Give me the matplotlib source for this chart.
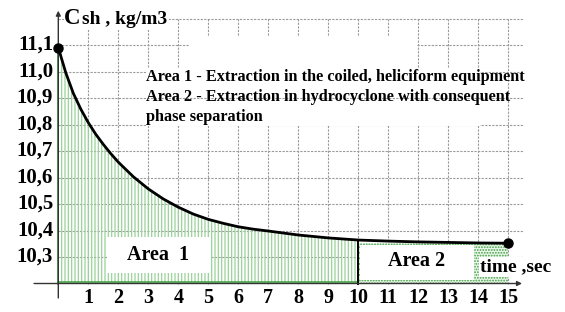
import numpy as np
import matplotlib
matplotlib.use("Agg")
import matplotlib.pyplot as plt
from matplotlib.patches import Rectangle

# ---- data ----
time_s = [0, 0.25, 0.5, 0.75, 1.0, 1.25, 1.5, 1.75, 2, 2.5, 3, 3.5, 4, 4.5, 5, 5.5, 6, 6.5,
          7, 8, 9, 10, 11, 12, 13, 14, 15]
c_sh = [11.09, 10.995, 10.918, 10.858, 10.807, 10.763, 10.725, 10.69, 10.658, 10.603,
        10.557, 10.519, 10.488, 10.462, 10.442, 10.427, 10.414, 10.405, 10.398, 10.383,
        10.372, 10.364, 10.36, 10.357, 10.355, 10.353, 10.352]
x_ticks = list(range(1, 16))
y_ticks = [10.3, 10.4, 10.5, 10.6, 10.7, 10.8, 10.9, 11.0, 11.1]
y_tick_labels = ["10,3", "10,4", "10,5", "10,6", "10,7", "10,8", "10,9", "11,0", "11,1"]
area_split = 10
y_base = 10.2
y_top = 11.2
note_lines = ["Area 1 - Extraction in the coiled, heliciform equipment",
              "Area 2 - Extraction in hydrocyclone with consequent",
              "phase separation"]

plt.rcParams['font.family'] = ['Liberation Serif', 'DejaVu Serif']
plt.rcParams['font.weight'] = 'bold'
plt.rcParams['hatch.linewidth'] = 0.9

W, H = 565, 312
fig = plt.figure(figsize=(W / 100, H / 100), dpi=100)
ax = fig.add_axes([0, 0, 1, 1])
# pixel mapping: t=0 at x=58.3px, 30 px per sec; 10.2 at y=283.5px, 265 px per 1.0
x0px, xs = 58.3, 30.0
y0px, ys = 283.5, 265.0
ax.set_xlim(-x0px / xs, (W - x0px) / xs)
ax.set_ylim(y_base - (H - y0px) / ys, y_base + y0px / ys)
ax.set_facecolor('white')

t = np.array(time_s)
c = np.array(c_sh)

# grid
grid_kw = dict(colors='#9a9a9a', linewidth=0.8, linestyles=(0, (2, 1.2)))
ax.hlines([v for v in y_ticks if v not in (10.9, 11.1)] + [y_top], 0, 15.5, zorder=1, **grid_kw)
ax.hlines(11.1, 0, 4.4, zorder=1, **grid_kw)
ax.hlines(11.1, 11.95, 15.5, zorder=1, **grid_kw)
ax.vlines(x_ticks, y_base, y_top, zorder=1, **grid_kw)

# white patches behind the note (as in the original)
ax.add_patch(Rectangle((4.4, 11.013), 11.95 - 4.4, 11.13 - 11.013, facecolor='white',
                       edgecolor='none', zorder=1.5))
ax.add_patch(Rectangle((2.96, 10.794), 14.05 - 2.96, 11.013 - 10.794, facecolor='white',
                       edgecolor='none', zorder=1.5))
ax.hlines(10.9, 0, 15.5, zorder=1.6, **grid_kw)

# Area 1 hatch
m1 = t <= area_split
ax.fill_between(t[m1], y_base, c[m1], facecolor='none', edgecolor='#9ad39a',
                hatch='|||||', linewidth=0, zorder=2)
ax.plot([0, area_split], [y_base + 0.004, y_base + 0.004], color='#4aa84a', lw=1.2, zorder=3)
ax.plot([0, 0], [y_base, c[0]], color='#4aa84a', lw=1.2, zorder=3)

# Area 2 dotted fill
m2 = t >= area_split
ax.fill_between(t[m2], y_base, c[-1], facecolor='#eef7ee', edgecolor='#3f9f3f',
                hatch='......', linewidth=0, zorder=2)

# white label boxes
ax.add_patch(Rectangle((1.62, 10.24), 3.44, 0.135, facecolor='white', edgecolor='none', zorder=4))
ax.text(3.33, 10.307, "Area  1", ha='center', va='center', fontsize=14.5, fontweight='bold', zorder=5)
ax.add_patch(Rectangle((10.07, 10.215), 3.77, 0.13, facecolor='white', edgecolor='none', zorder=4))
ax.text(11.95, 10.285, "Area 2", ha='center', va='center', fontsize=14.5, fontweight='bold', zorder=5)
ax.text(15.25, 10.262, "time ,sec", ha='center', va='center', fontsize=14, fontweight='bold',
        zorder=5, bbox=dict(facecolor='white', edgecolor='none', pad=1))

# vertical divider at t = 10
ax.plot([area_split, area_split], [y_base, c[t == area_split][0]], color='black', lw=1.4, zorder=6)

# curve
ax.plot(t, c, color='black', lw=2.0, zorder=7, solid_capstyle='round')
ax.plot([t[0], t[-1]], [c[0], c[-1]], 'o', color='black', ms=6.5, zorder=8)

# axes with arrows
ax.annotate('', xy=(15.55, y_base), xytext=(-0.9, y_base),
            arrowprops=dict(arrowstyle='-|>', color='#333333', lw=1.0, mutation_scale=7), zorder=6)
ax.annotate('', xy=(0, 11.24), xytext=(0, 10.135),
            arrowprops=dict(arrowstyle='-|>', color='#333333', lw=1.0, mutation_scale=7), zorder=6)

# tick labels
for xv in x_ticks:
    ax.text(xv, 10.146, str(xv), ha='center', va='center', fontsize=14.5, fontweight='bold')
for yv, lab in zip(y_ticks, y_tick_labels):
    ax.text(-0.17, yv, lab, ha='right', va='center', fontsize=15, fontweight='bold')

# axis title
ax.text(0.2, 11.2, "C", ha='left', va='center', fontsize=16.5, fontweight='bold',
        bbox=dict(facecolor='white', edgecolor='none', pad=0.5))
ax.text(0.78, 11.195, "sh , kg/m3", ha='left', va='center', fontsize=14, fontweight='bold',
        bbox=dict(facecolor='white', edgecolor='none', pad=1.5))

# note
ax.text(2.92, 10.904, "\n".join(note_lines), ha='left', va='center', fontsize=11.7,
        fontweight='bold', linespacing=1.3, zorder=5)

ax.axis('off')
fig.savefig('out.png', dpi=100)
